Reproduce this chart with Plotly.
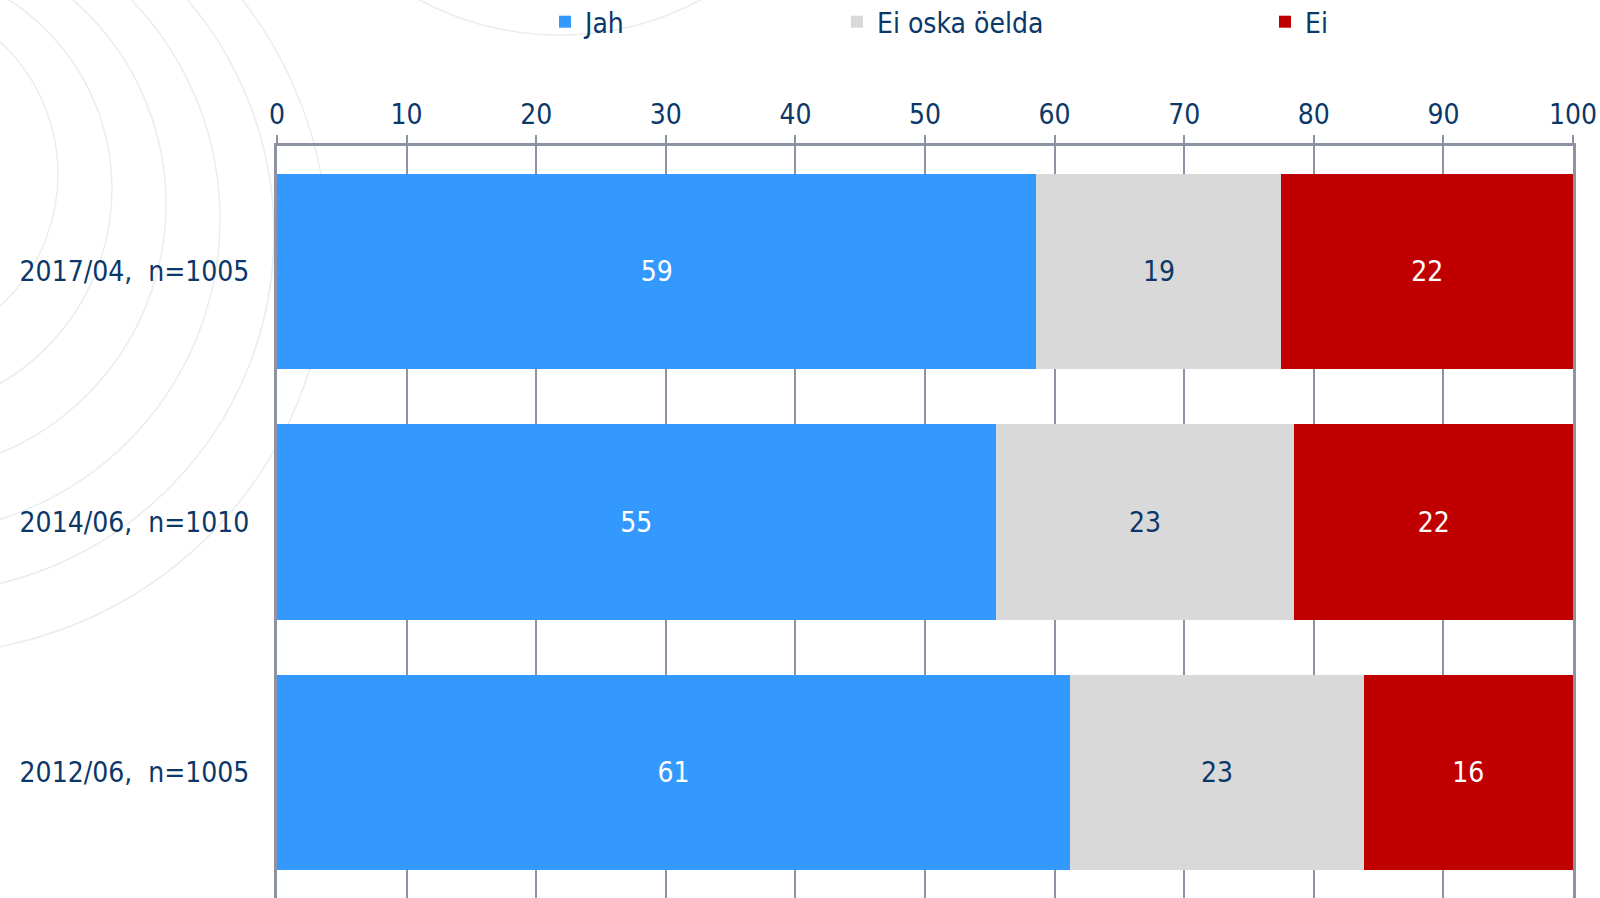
import plotly.graph_objects as go

# data
waves = ["2017/04,\u00a0 n=1005", "2014/06,\u00a0 n=1010", "2012/06,\u00a0 n=1005"]
jah = [58.6, 55.45, 61.2]
ei_oska = [18.9, 23.05, 22.65]
ei = [22.5, 21.5, 16.15]
jah_lbl = ["59", "55", "61"]
ei_oska_lbl = ["19", "23", "23"]
ei_lbl = ["22", "22", "16"]
xticks = [0, 10, 20, 30, 40, 50, 60, 70, 80, 90, 100]

navy = "#0b3868"
grid = "#8e93a3"
font_fam = "DejaVu Sans Condensed, DejaVu Sans, sans-serif"
fs = 28

W, H = 1600, 898
ml, mr, mt, mb = 277, 27, 146, 0

fig = go.Figure()
series = [
    ("Jah", jah, jah_lbl, "#3399ff", "white", "legend"),
    ("Ei oska öelda", ei_oska, ei_oska_lbl, "#d9d9d9", navy, "legend2"),
    ("Ei", ei, ei_lbl, "#c00000", "white", "legend3"),
]
for name, vals, lbl, col, tcol, leg in series:
    fig.add_trace(go.Bar(
        y=waves, x=vals, name=name, orientation="h",
        text=lbl, textposition="inside", insidetextanchor="middle",
        textfont=dict(color=tcol, size=fs, family=font_fam),
        marker=dict(color=col, line_width=0),
        legend=leg, hoverinfo="skip",
    ))

# faint decorative rings in the background (pixel -> paper coords)
pw, ph = W - ml - mr, H - mt - mb
def px(x):
    return (x - ml) / pw
def py(y):
    return (H - mb - y) / ph

shapes = []
deco = "#e9ecf1"
for k in range(6):
    r = 180 + 45 * k
    right = 58 + 54 * k
    cx, cy = right - r, 174 + 15 * k
    shapes.append(dict(type="circle", xref="paper", yref="paper", layer="below",
                       x0=px(cx - r), x1=px(cx + r), y0=py(cy + r), y1=py(cy - r),
                       line=dict(color=deco, width=1.5)))
# arc near the top
r, cx, cy = 300, 560, -265
shapes.append(dict(type="circle", xref="paper", yref="paper", layer="below",
                   x0=px(cx - r), x1=px(cx + r), y0=py(cy + r), y1=py(cy - r),
                   line=dict(color=deco, width=1.5)))

fig.update_layout(
    width=W, height=H,
    margin=dict(l=ml, r=mr, t=mt, b=mb),
    barmode="stack", bargap=0.22,
    paper_bgcolor="white", plot_bgcolor="rgba(0,0,0,0)",
    font=dict(family=font_fam, size=fs, color=navy),
    shapes=shapes,
    xaxis=dict(side="top", range=[0, 100], tickvals=xticks, showgrid=True,
               gridcolor=grid, gridwidth=2, showline=True, linecolor=grid,
               linewidth=3, ticks="outside", ticklen=8, tickwidth=2, tickcolor=grid,
               tickfont=dict(size=fs, color=navy), zeroline=False, fixedrange=True),
    yaxis=dict(autorange="reversed", showline=True, linecolor=grid, linewidth=3,
               mirror=True, showgrid=False, ticks="", ticklabelstandoff=19,
               tickfont=dict(size=fs, color=navy), fixedrange=True),
    showlegend=True,
)
leg_common = dict(orientation="h", xref="container", yref="container",
                  xanchor="left", yanchor="middle", y=1 - 22 / H,
                  bgcolor="rgba(0,0,0,0)", font=dict(size=fs, color=navy, family=font_fam),
                  itemwidth=30)
fig.update_layout(
    legend=dict(x=(565 - 20) / W, **leg_common),
    legend2=dict(x=(857 - 20) / W, **leg_common),
    legend3=dict(x=(1285 - 20) / W, **leg_common),
)

# page margin off so the figure fills the window exactly
fig.write_html("out.html", config={"displayModeBar": False},
               post_script="document.body.style.margin='0';document.body.style.overflow='hidden';")
